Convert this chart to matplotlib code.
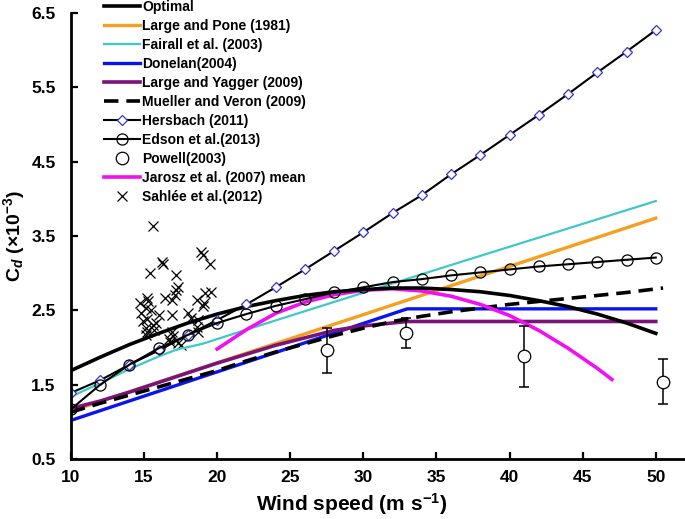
import matplotlib
matplotlib.use("Agg")
import matplotlib.pyplot as plt

plt.rcParams['font.family'] = ['Liberation Sans', 'DejaVu Sans']
plt.rcParams['font.weight'] = 'bold'
plt.rcParams['mathtext.fontset'] = 'custom'
plt.rcParams['mathtext.rm'] = 'Liberation Sans:bold'
plt.rcParams['mathtext.it'] = 'Liberation Sans:bold:italic'
plt.rcParams['mathtext.bf'] = 'Liberation Sans:bold'

# --- data ---
wind = [10, 12, 14, 16, 18, 20, 22, 24, 26, 28, 30, 32, 34, 36, 38, 40, 42, 44, 46, 48, 50]

optimal = [1.69, 1.87, 2.04, 2.19, 2.33, 2.45, 2.55, 2.63, 2.70, 2.75, 2.78, 2.80, 2.80,
           2.78, 2.75, 2.70, 2.63, 2.55, 2.45, 2.33, 2.19]

pone_x = [10, 11, 50]
pone_y = [1.20, 1.21, 3.74]

fairall_x = [10, 12, 14, 16, 17.2, 19, 22, 36, 50]
fairall_y = [1.34, 1.52, 1.71, 1.88, 1.97, 2.05, 2.24, 3.11, 3.97]

donelan_x = [10, 33, 50]
donelan_y = [1.02, 2.52, 2.52]

yagger_x = [10, 12, 14, 16, 18, 20, 22, 24, 26, 28, 30, 32, 33, 50]
yagger_y = [1.18, 1.28, 1.40, 1.53, 1.66, 1.79, 1.91, 2.03, 2.13, 2.23, 2.29, 2.33, 2.35, 2.35]

mueller_x = [10, 12, 14, 16, 18, 20, 22, 24, 26, 28, 30, 32, 34, 36, 38, 40, 42, 44, 46, 48, 50.5]
mueller_y = [1.13, 1.25, 1.36, 1.47, 1.58, 1.69, 1.82, 1.94, 2.05, 2.16, 2.26, 2.35, 2.42,
             2.48, 2.53, 2.58, 2.62, 2.66, 2.70, 2.74, 2.80]

hersbach = [1.39, 1.56, 1.77, 1.96, 2.17, 2.37, 2.58, 2.81, 3.05, 3.30, 3.55, 3.81, 4.05,
            4.33, 4.59, 4.86, 5.13, 5.41, 5.70, 5.98, 6.27]

edson = [1.17, 1.50, 1.77, 1.99, 2.17, 2.33, 2.45, 2.56, 2.65, 2.74, 2.81, 2.88, 2.92,
         2.97, 3.01, 3.05, 3.09, 3.12, 3.15, 3.18, 3.21]

powell_x = [27.5, 32.9, 41.0, 50.5]
powell_y = [1.96, 2.20, 1.88, 1.54]
powell_err = [0.30, 0.20, 0.41, 0.30]

jarosz_x = [20, 22, 24, 26, 28, 30, 32, 34, 36, 38, 40, 42, 44, 46, 47]
jarosz_y = [1.98, 2.24, 2.46, 2.61, 2.71, 2.77, 2.79, 2.76, 2.69, 2.58, 2.43, 2.23, 1.99, 1.72, 1.57]

sahlee_x = [15.6, 16.2, 16.3, 15.4, 17.2, 18.9, 19.0, 19.5, 17.3, 17.2, 19.2, 19.6, 14.7, 15.2,
            16.4, 16.9, 17.1, 18.6, 19.1, 19.0, 15.1, 15.5, 16.0, 16.9, 18.0, 18.2, 14.8, 15.2,
            15.6, 15.8, 14.9, 15.1, 15.7, 16.9, 17.0, 18.6, 18.7, 17.5, 16.7, 15.1, 15.2, 18.7,
            16.8, 17.3, 15.3]
sahlee_y = [3.63, 3.15, 3.13, 3.00, 2.97, 3.29, 3.25, 3.12, 2.82, 2.77, 2.73, 2.75, 2.60, 2.66,
            2.67, 2.64, 2.71, 2.64, 2.60, 2.56, 2.53, 2.51, 2.44, 2.44, 2.46, 2.40, 2.46, 2.39,
            2.30, 2.33, 2.35, 2.26, 2.24, 2.21, 2.15, 2.28, 2.37, 2.03, 2.12, 2.17, 2.21, 2.21,
            2.08, 2.06, 2.62]

fig = plt.figure(figsize=(6.85, 5.19), dpi=100)
ax = fig.add_axes([71 / 685, 1 - 459 / 519, 614 / 685, 446 / 519])

h_sah, = ax.plot(sahlee_x, sahlee_y, 'x', color='black', markersize=7.5, markeredgewidth=0.9,
                 label='Sahlée et al.(2012)')
h_pone, = ax.plot(pone_x, pone_y, color='#F5A020', lw=2.4, label='Large and Pone (1981)')
h_fair, = ax.plot(fairall_x, fairall_y, color='#3FC8C8', lw=1.6, label='Fairall et al. (2003)')
h_don, = ax.plot(donelan_x, donelan_y, color='#0A14F0', lw=2.4, label='Donelan(2004)')
h_yag, = ax.plot(yagger_x, yagger_y, color='#7A137A', lw=2.6, label='Large and Yagger (2009)')
h_mue, = ax.plot(mueller_x, mueller_y, color='black', lw=2.6, dashes=(4, 2.2),
                 label='Mueller and Veron (2009)')
h_jar, = ax.plot(jarosz_x, jarosz_y, color='#F010F0', lw=2.6, label='Jarosz et al. (2007) mean')
h_opt, = ax.plot(wind, optimal, color='black', lw=2.6, label='Optimal')
h_her, = ax.plot(wind, hersbach, color='black', lw=1.5, marker='D', markersize=5,
                 markerfacecolor='white', markeredgecolor='#3535C8', markeredgewidth=0.9,
                 label='Hersbach (2011)')
h_eds, = ax.plot(wind, edson, color='black', lw=1.5, marker='o', markersize=8,
                 markerfacecolor='none', markeredgecolor='black', markeredgewidth=0.9,
                 label='Edson et al.(2013)')
ax.errorbar(powell_x, powell_y, yerr=powell_err, fmt='none', ecolor='black', elinewidth=1.1,
            capsize=3.5, capthick=1.1)
h_pow, = ax.plot(powell_x, powell_y, 'o', markersize=9, markerfacecolor='white',
                 markeredgecolor='black', markeredgewidth=0.9, label='Powell(2003)')

ax.set_xlim(10, 52)
ax.set_ylim(0.5, 6.5)
ax.set_xticks([10, 15, 20, 25, 30, 35, 40, 45, 50])
ax.set_yticks([0.5, 1.5, 2.5, 3.5, 4.5, 5.5, 6.5])
ax.set_yticklabels(['0.5', '1.5', '2.5', '3.5', '4.5', '5.5', '6.5'])
ax.tick_params(direction='in', length=5, width=1.6, labelsize=12.5)
ax.tick_params(axis='x', pad=8)
ax.tick_params(axis='y', pad=11)
for s in ['top', 'right']:
    ax.spines[s].set_visible(False)
for s in ['left', 'bottom']:
    ax.spines[s].set_linewidth(2)
for lab in ax.get_xticklabels() + ax.get_yticklabels():
    lab.set_fontweight('bold')

ax.set_xlabel(r'Wind speed (m s$^{-1}$)', fontsize=15, fontweight='bold')
ax.set_ylabel(r'$\mathrm{C}_{\mathit{d}}$ (×10$^{-3}$)', fontsize=14, fontweight='bold')
ax.xaxis.set_label_coords(0.457, -0.072)
ax.yaxis.set_label_coords(-0.072, 0.5)

handles = [h_opt, h_pone, h_fair, h_don, h_yag, h_mue, h_her, h_eds, h_pow, h_jar, h_sah]
leg = fig.legend(handles=handles, loc='upper left', bbox_to_anchor=(104 / 685, 1.0),
                 frameon=False, borderpad=0, borderaxespad=0, handlelength=2.6,
                 handletextpad=0.15, labelspacing=0.36, prop={'weight': 'bold', 'size': 10})

fig.savefig('out.png', dpi=100)
